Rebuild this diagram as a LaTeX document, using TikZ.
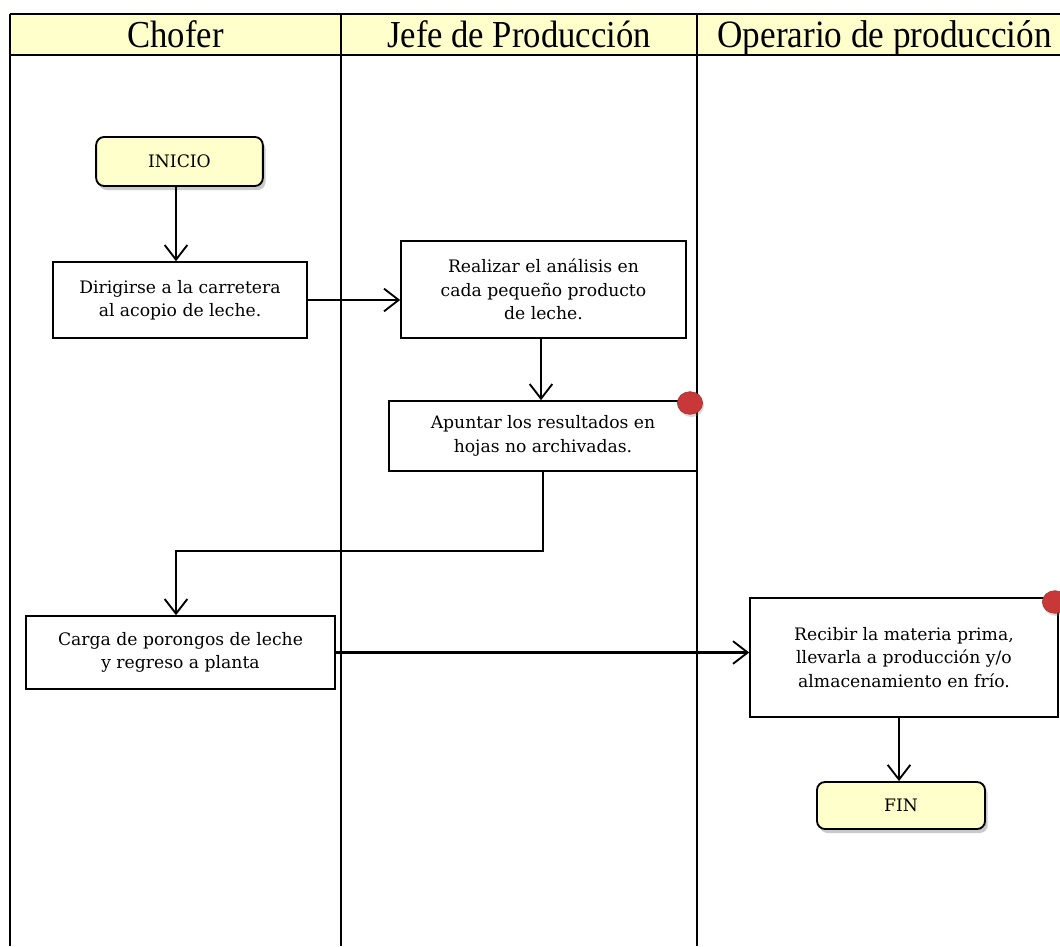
\documentclass[tikz,border=0pt]{standalone}
\usepackage{fontspec}
\setmainfont{Liberation Serif}
\newfontfamily\boxfont{DejaVu Serif}
\usetikzlibrary{arrows.meta,shadows,shapes.geometric}
\definecolor{paleyellow}{RGB}{255,255,204}
\definecolor{dotred}{RGB}{200,56,56}
\begin{document}
\begin{tikzpicture}[x=0.75pt,y=-0.75pt,
  lane/.style={line width=1.4pt},
  stepbox/.style={draw,line width=1.2pt,fill=white,align=center,font=\boxfont\fontsize{12.9}{17.5}\selectfont,inner sep=0pt},
  terminal/.style={draw,line width=1.4pt,rounded corners=6pt,fill=paleyellow,font=\boxfont\fontsize{12.9}{15}\selectfont,inner sep=0pt,
    drop shadow={shadow xshift=2pt,shadow yshift=-3pt,opacity=0.35,fill=black!60}},
  flow/.style={line width=1.6pt,-{Straight Barb[length=11pt,width=17pt,line width=1.4pt]}},
  marker/.style={ellipse,fill=dotred,draw=dotred!80!black,line width=0.4pt,minimum width=19pt,minimum height=17pt,inner sep=0pt,
    drop shadow={shadow xshift=1pt,shadow yshift=-2pt,opacity=0.3}},
  header/.style={font=\fontsize{26}{29}\selectfont,yscale=1.1,anchor=base,inner sep=0pt}]
\useasboundingbox (0,0) rectangle (1060,946);

% swimlane header and lane borders
\fill[paleyellow] (10,14) rectangle (1060,55);
\draw[line width=1.8pt] (10,14) -- (1060,14);
\draw[line width=1.8pt] (10,55) -- (1060,55);
\draw[lane] (10,14) -- (10,946);
\draw[lane] (341,14) -- (341,946);
\draw[lane] (697,14) -- (697,946);
\node[header] (h1) at (175.5,47.5) {Chofer};
\node[header] (h2) at (519,47.5) {Jefe de Producción};
\node[header,font=\fontsize{26.4}{29}\selectfont] (h3) at (884.5,47.5) {Operario de producción};

% process steps
\node[terminal,minimum width=125pt,minimum height=36.75pt] (inicio) at (179.5,161.5) {INICIO};
\node[stepbox,minimum width=190.5pt,minimum height=57pt] (dirigir) at (180,300) {Dirigirse a la carretera\\al acopio de leche.};
\node[stepbox,minimum width=213.75pt,minimum height=72.75pt] (analisis) at (543.5,289.5) {Realizar el análisis en\\cada pequeño producto\\de leche.};
\node[stepbox,minimum width=231pt,minimum height=52.5pt] (apuntar) at (543,436) {Apuntar los resultados en\\hojas no archivadas.};
\node[stepbox,minimum width=231.75pt,minimum height=54.75pt] (carga) at (180.5,652.5) {Carga de porongos de leche\\y regreso a planta};
\node[stepbox,minimum width=231pt,minimum height=89.25pt] (recibir) at (904,657.5) {Recibir la materia prima,\\llevarla a producción y/o\\almacenamiento en frío.};
\node[terminal,minimum width=126pt,minimum height=35.25pt] (fin) at (901,805.5) {FIN};

% markers
\node[marker] (m1) at (690,403) {};
\node[marker] (m2) at (1055,602) {};

% connectors
\coordinate (k1) at (543,551);
\coordinate (k2) at (176,551);
\draw[flow] (inicio.south -| 176,0) -- (dirigir.north -| 176,0);
\draw[flow] (dirigir.east) -- (analisis.west |- dirigir.east);
\draw[flow] (analisis.south -| 541,0) -- (apuntar.north -| 541,0);
\draw[flow] (apuntar.south) -- (k1) -- (k2) -- (carga.north -| 176,0);
\draw[flow] (carga.east) -- (recibir.west |- carga.east);
\draw[flow] (recibir.south -| 899,0) -- (fin.north -| 899,0);
\end{tikzpicture}
\end{document}
